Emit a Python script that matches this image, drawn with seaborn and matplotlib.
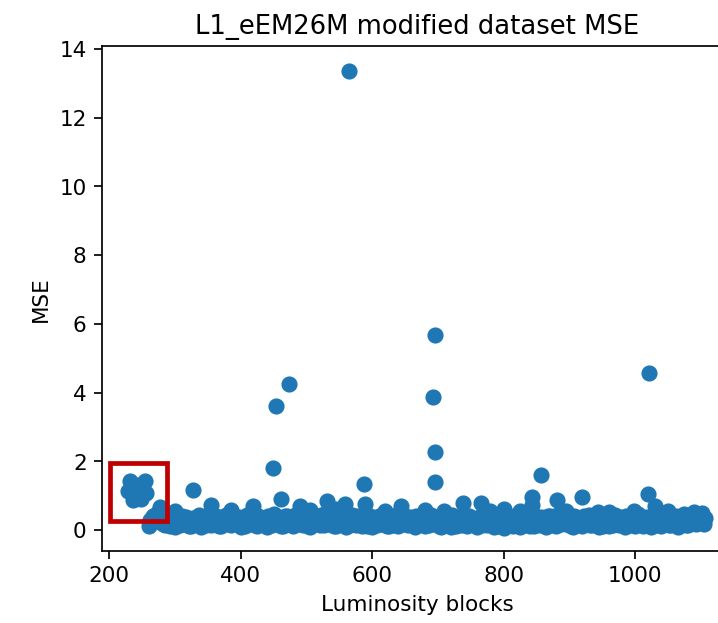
import numpy as np
import pandas as pd
import matplotlib
matplotlib.use("Agg")
import matplotlib.pyplot as plt
import seaborn as sns
from matplotlib.patches import Rectangle

# Bulk of the luminosity blocks: consecutive blocks sampled every 5
band_lumi = np.arange(260, 1110, 5)
band_mse = [
    0.12, 0.28, 0.45, 0.55, 0.30, 0.15, 0.38, 0.22, 0.10, 0.33,
    0.41, 0.18, 0.27, 0.12, 0.36, 0.21, 0.09, 0.30, 0.44, 0.16,
    0.26, 0.38, 0.11, 0.24, 0.33, 0.14, 0.40, 0.20, 0.10, 0.31,
    0.43, 0.17, 0.28, 0.12, 0.37, 0.22, 0.09, 0.34, 0.46, 0.19,
    0.29, 0.13, 0.42, 0.25, 0.11, 0.35, 0.48, 0.16, 0.27, 0.10,
    0.39, 0.23, 0.14, 0.32, 0.50, 0.18, 0.28, 0.11, 0.41, 0.24,
    0.09, 0.36, 0.45, 0.15, 0.26, 0.12, 0.38, 0.21, 0.10, 0.30,
    0.42, 0.17, 0.25, 0.11, 0.35, 0.20, 0.13, 0.33, 0.40, 0.16,
    0.27, 0.09, 0.37, 0.22, 0.12, 0.31, 0.44, 0.18, 0.26, 0.10,
    0.34, 0.21, 0.08, 0.30, 0.39, 0.15, 0.27, 0.11, 0.36, 0.19,
    0.10, 0.32, 0.41, 0.14, 0.24, 0.09, 0.35, 0.20, 0.06, 0.28,
    0.38, 0.13, 0.25, 0.10, 0.40, 0.22, 0.12, 0.46, 0.30, 0.15,
    0.26, 0.08, 0.42, 0.21, 0.11, 0.33, 0.44, 0.17, 0.27, 0.10,
    0.38, 0.23, 0.13, 0.31, 0.45, 0.16, 0.25, 0.09, 0.36, 0.20,
    0.11, 0.34, 0.43, 0.15, 0.26, 0.10, 0.39, 0.22, 0.12, 0.47,
    0.30, 0.14, 0.25, 0.09, 0.40, 0.21, 0.11, 0.33, 0.42, 0.16,
    0.27, 0.10, 0.38, 0.45, 0.15, 0.26, 0.41, 0.20, 0.44, 0.18,
]

# The in-between blocks of the same stretch
band_lumi_b = np.arange(262, 1112, 5)
band_mse_b = [
    0.30, 0.42, 0.25, 0.35, 0.18, 0.40, 0.12, 0.36, 0.29, 0.15,
    0.22, 0.39, 0.11, 0.34, 0.19, 0.43, 0.31, 0.14, 0.24, 0.37,
    0.41, 0.13, 0.32, 0.45, 0.17, 0.35, 0.21, 0.38, 0.28, 0.12,
    0.20, 0.36, 0.14, 0.42, 0.23, 0.33, 0.40, 0.16, 0.25, 0.38,
    0.11, 0.41, 0.26, 0.35, 0.44, 0.19, 0.24, 0.37, 0.13, 0.40,
    0.20, 0.36, 0.45, 0.15, 0.27, 0.39, 0.12, 0.34, 0.22, 0.43,
    0.35, 0.14, 0.24, 0.40, 0.18, 0.37, 0.13, 0.42, 0.31, 0.16,
    0.21, 0.39, 0.12, 0.36, 0.15, 0.43, 0.30, 0.17, 0.24, 0.38,
    0.14, 0.40, 0.19, 0.34, 0.42, 0.16, 0.23, 0.37, 0.11, 0.41,
    0.18, 0.36, 0.43, 0.13, 0.22, 0.38, 0.15, 0.40, 0.25, 0.33,
    0.39, 0.16, 0.23, 0.35, 0.42, 0.20, 0.13, 0.37, 0.30, 0.14,
    0.21, 0.41, 0.33, 0.38, 0.16, 0.35, 0.43, 0.12, 0.24, 0.39,
    0.36, 0.40, 0.15, 0.32, 0.44, 0.18, 0.22, 0.38, 0.13, 0.41,
    0.17, 0.35, 0.42, 0.21, 0.14, 0.37, 0.40, 0.31, 0.12, 0.39,
    0.40, 0.15, 0.23, 0.38, 0.33, 0.42, 0.14, 0.36, 0.41, 0.19,
    0.13, 0.39, 0.35, 0.43, 0.16, 0.37, 0.40, 0.22, 0.15, 0.38,
    0.41, 0.36, 0.20, 0.14, 0.39, 0.43, 0.18, 0.37, 0.22, 0.35,
]

# Early blocks with elevated MSE (highlighted group)
early_lumi = [229, 231, 236, 240, 242, 246, 249, 254, 256]
early_mse = [1.15, 1.42, 0.88, 1.30, 1.15, 1.30, 0.90, 1.42, 1.08]

# Blocks standing out above the bulk
peak_lumi = [277, 300, 327, 355, 385, 419, 449, 453, 462, 473, 490, 505,
             532, 545, 558, 565, 588, 589, 620, 644, 680, 693, 695, 695,
             696, 710, 738, 766, 780, 801, 825, 843, 843, 857, 881, 895,
             919, 944, 960, 998, 1019, 1021, 1031, 1050, 1074, 1090, 1102]
peak_mse = [0.68, 0.55, 1.16, 0.72, 0.58, 0.70, 1.82, 3.62, 0.90, 4.26, 0.70, 0.58,
            0.85, 0.60, 0.75, 13.37, 1.33, 0.75, 0.55, 0.70, 0.57, 3.87, 2.28, 1.41,
            5.67, 0.55, 0.78, 0.78, 0.55, 0.62, 0.55, 0.97, 0.73, 1.60, 0.88, 0.55,
            0.95, 0.52, 0.52, 0.55, 1.06, 4.58, 0.70, 0.55, 0.48, 0.52, 0.50]

df = pd.DataFrame({
    "lumi": np.concatenate([band_lumi, band_lumi_b, early_lumi, peak_lumi]),
    "mse": np.concatenate([band_mse, band_mse_b, early_mse, peak_mse]),
})

DPI = 155
fig = plt.figure(figsize=(718.3 / DPI, 623.3 / DPI), dpi=DPI)
ax = fig.add_axes([0.1416, 0.1160, 0.8779, 0.8090])

sns.scatterplot(data=df, x="lumi", y="mse", s=36, color="#1f77b4",
                edgecolor="face", linewidth=1.5, ax=ax, legend=False)

ax.set_xlim(188.5, 1148)
ax.set_ylim(-0.6, 14.07)
ax.spines["right"].set_visible(False)

# Box around the early high-MSE blocks
ax.add_patch(Rectangle((200.5, 0.26), 87, 1.69, fill=False,
                       edgecolor="#c00000", linewidth=2.2, zorder=5,
                       clip_on=False))

ax.set_title("L1_eEM26M modified dataset MSE")
ax.set_xlabel("Luminosity blocks")
ax.set_ylabel("MSE")

fig.savefig("out.png", dpi=DPI)
